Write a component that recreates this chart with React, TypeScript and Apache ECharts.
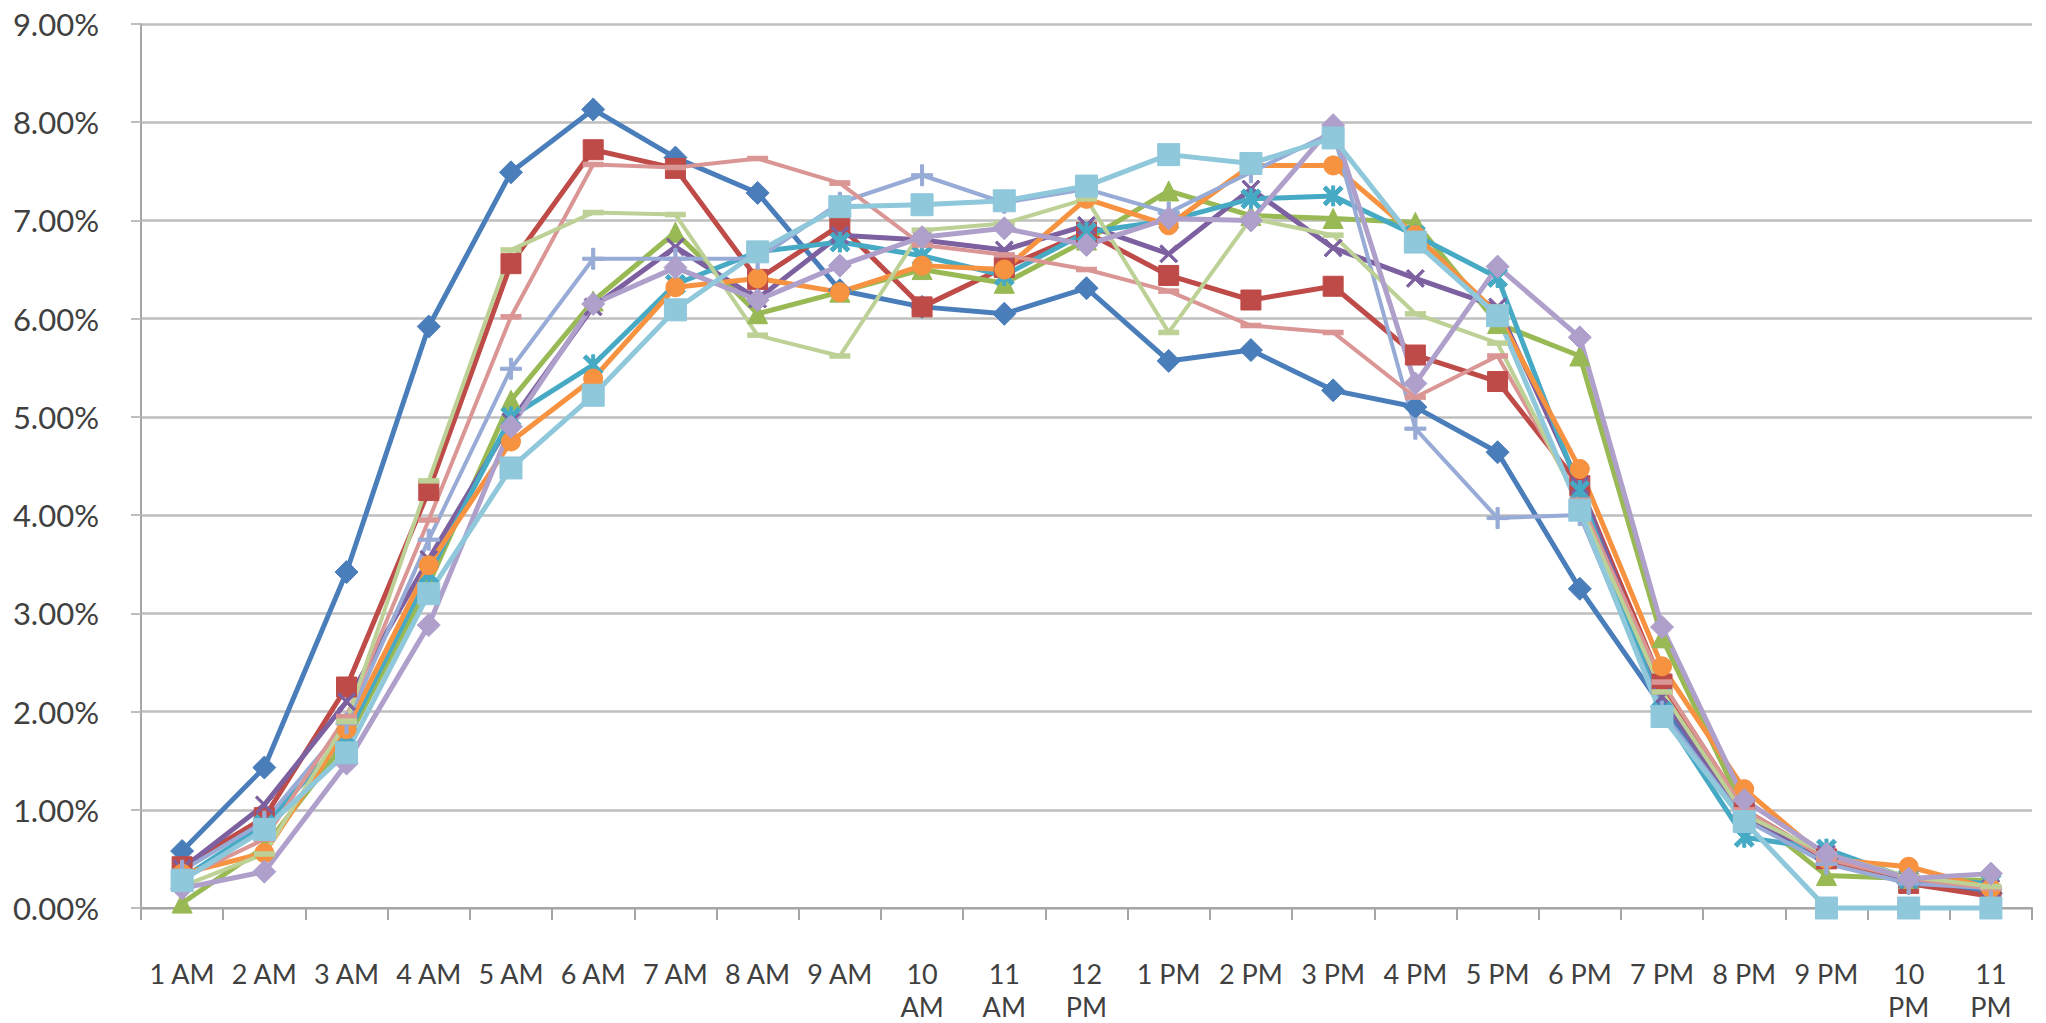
import React, { useEffect, useRef } from "react";
import * as echarts from "echarts";

const categories = [
  "1 AM", "2 AM", "3 AM", "4 AM", "5 AM", "6 AM", "7 AM", "8 AM", "9 AM", "10 AM", "11 AM", "12 PM",
  "1 PM", "2 PM", "3 PM", "4 PM", "5 PM", "6 PM", "7 PM", "8 PM", "9 PM", "10 PM", "11 PM",
];

const seriesA = [0.58, 1.43, 3.42, 5.92, 7.49, 8.13, 7.64, 7.28, 6.29, 6.12, 6.05, 6.31, 5.57, 5.68, 5.27, 5.10, 4.64, 3.25, 2.05, 0.95, 0.50, 0.25, 0.15];
const seriesB = [0.42, 0.92, 2.25, 4.25, 6.56, 7.72, 7.53, 6.40, 6.95, 6.12, 6.52, 6.88, 6.44, 6.19, 6.33, 5.63, 5.36, 4.30, 2.28, 1.00, 0.50, 0.25, 0.12];
const seriesC = [0.05, 0.62, 1.70, 3.30, 5.17, 6.18, 6.88, 6.05, 6.27, 6.50, 6.36, 6.80, 7.30, 7.05, 7.02, 6.98, 5.95, 5.62, 2.75, 1.00, 0.33, 0.30, 0.28];
const seriesD = [0.40, 1.05, 2.10, 3.55, 4.95, 6.12, 6.73, 6.20, 6.85, 6.80, 6.70, 6.95, 6.66, 7.32, 6.72, 6.41, 6.12, 4.30, 2.15, 0.90, 0.55, 0.28, 0.20];
const seriesE = [0.30, 0.85, 1.75, 3.40, 5.00, 5.53, 6.35, 6.68, 6.78, 6.64, 6.44, 6.88, 7.00, 7.22, 7.25, 6.85, 6.42, 4.25, 2.00, 0.72, 0.60, 0.30, 0.25];
const seriesF = [0.35, 0.56, 1.82, 3.49, 4.75, 5.39, 6.32, 6.41, 6.27, 6.54, 6.50, 7.22, 6.95, 7.56, 7.56, 6.85, 6.05, 4.47, 2.46, 1.21, 0.50, 0.42, 0.20];
const seriesG = [0.38, 0.88, 1.88, 3.75, 5.49, 6.61, 6.61, 6.61, 7.18, 7.46, 7.18, 7.32, 7.08, 7.49, 7.90, 4.88, 3.97, 4.00, 2.00, 0.90, 0.45, 0.25, 0.20];
const seriesH = [0.30, 0.70, 1.95, 3.95, 6.02, 7.57, 7.54, 7.63, 7.38, 6.75, 6.65, 6.50, 6.28, 5.93, 5.86, 5.20, 5.62, 4.15, 2.30, 1.00, 0.50, 0.30, 0.20];
const seriesI = [0.22, 0.55, 1.90, 4.35, 6.70, 7.08, 7.06, 5.83, 5.62, 6.90, 6.97, 7.22, 5.86, 7.02, 6.85, 6.05, 5.75, 4.10, 2.20, 0.95, 0.55, 0.32, 0.22];
const seriesJ = [0.20, 0.37, 1.47, 2.88, 4.90, 6.15, 6.52, 6.19, 6.54, 6.83, 6.92, 6.75, 7.02, 7.00, 7.97, 5.34, 6.53, 5.81, 2.86, 1.10, 0.55, 0.30, 0.35];
const seriesK = [0.28, 0.80, 1.58, 3.20, 4.48, 5.22, 6.09, 6.68, 7.14, 7.16, 7.20, 7.35, 7.67, 7.58, 7.84, 6.78, 6.03, 4.05, 1.95, 0.88, 0.00, 0.00, 0.00];

const yTicks = [0, 1, 2, 3, 4, 5, 6, 7, 8, 9];

const X_SYM = "path://M0,2 L2,0 L10,8 L18,0 L20,2 L12,10 L20,18 L18,20 L10,12 L2,20 L0,18 L8,10 Z";
const STAR_SYM = "path://M0,3 L3,0 L10,7 L17,0 L20,3 L13,10 L20,17 L17,20 L10,13 L3,20 L0,17 L7,10 Z M8.5,0 L11.5,0 L11.5,20 L8.5,20 Z";
const PLUS_SYM = "path://M8.5,0 H11.5 V8.5 H20 V11.5 H11.5 V20 H8.5 V11.5 H0 V8.5 H8.5 Z";
const DASH_SYM = "path://M0,0 H20 V5 H0 Z";

type Def = { name: string; data: number[]; color: string; symbol: string; size: number | number[]; width: number };

const defs: Def[] = [
  { name: "A", data: seriesA, color: "#4A7EBB", symbol: "diamond", size: 23, width: 5 },
  { name: "B", data: seriesB, color: "#BE4B48", symbol: "rect", size: 20, width: 5 },
  { name: "C", data: seriesC, color: "#98B954", symbol: "triangle", size: 20, width: 5 },
  { name: "D", data: seriesD, color: "#7D60A0", symbol: X_SYM, size: 18, width: 5 },
  { name: "E", data: seriesE, color: "#46AAC5", symbol: STAR_SYM, size: 20, width: 5 },
  { name: "F", data: seriesF, color: "#F69240", symbol: "circle", size: 19, width: 5 },
  { name: "G", data: seriesG, color: "#97ABD6", symbol: PLUS_SYM, size: 21, width: 4 },
  { name: "H", data: seriesH, color: "#DA9694", symbol: DASH_SYM, size: [19, 5], width: 4 },
  { name: "I", data: seriesI, color: "#BDD196", symbol: DASH_SYM, size: [19, 5], width: 4 },
  { name: "J", data: seriesJ, color: "#AE9FCB", symbol: "diamond", size: 23, width: 5 },
  { name: "K", data: seriesK, color: "#8FC7DB", symbol: "rect", size: 22, width: 5 },
];

export default function App() {
  const ref = useRef<HTMLDivElement>(null);
  useEffect(() => {
    if (!ref.current) return;
    const chart = echarts.init(ref.current, undefined, { renderer: "svg" });
    const font = "Lato, 'Open Sans', sans-serif";
    chart.setOption({
      animation: false,
      backgroundColor: "#ffffff",
      grid: { left: 141, right: 14, top: 24, bottom: 113, containLabel: false },
      xAxis: {
        type: "category",
        data: categories,
        boundaryGap: true,
        axisLine: { show: true, lineStyle: { color: "#A6A6A6", width: 2 } },
        axisTick: { show: true, interval: 0, length: 12, lineStyle: { color: "#A6A6A6", width: 2 } },
        axisLabel: {
          interval: 0,
          color: "#404040",
          fontFamily: font,
          fontSize: 27,
          lineHeight: 33,
          margin: 49,
          verticalAlign: "top",
          formatter: (v: string) => (v.length > 4 ? v.replace(" ", "\n") : v),
        },
        splitLine: { show: false },
      },
      yAxis: {
        type: "value",
        min: yTicks[0],
        max: yTicks[yTicks.length - 1],
        interval: 1,
        axisLine: { show: true, lineStyle: { color: "#A6A6A6", width: 2 } },
        axisTick: { show: true, length: 10, lineStyle: { color: "#BEBEBE", width: 2 } },
        axisLabel: {
          color: "#404040",
          fontFamily: font,
          fontSize: 31,
          margin: 42,
          formatter: (v: number) => v.toFixed(2) + "%",
        },
        splitLine: { show: true, lineStyle: { color: "#BEBEBE", width: 2.5 } },
      },
      series: defs.map((d) => ({
        name: d.name,
        type: "line",
        data: d.data,
        symbol: d.symbol,
        symbolSize: d.size,
        showSymbol: true,
        clip: false,
        smooth: false,
        lineStyle: { color: d.color, width: d.width, cap: "round", join: "round" },
        itemStyle: { color: d.color, borderColor: d.color, borderWidth: 1 },
      })),
    });
    return () => chart.dispose();
  }, []);
  return (
    <div
      ref={ref}
      style={{ position: "fixed", left: 0, top: 0, width: 2046, height: 1023, background: "#fff" }}
    />
  );
}
